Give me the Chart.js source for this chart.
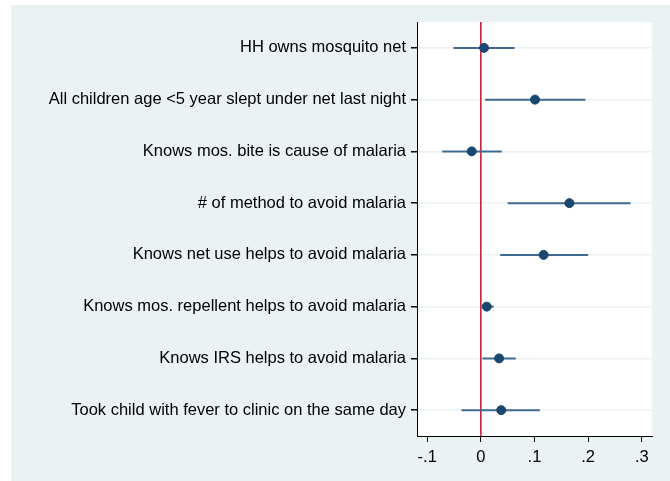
<!DOCTYPE html>
<html>
<head>
<meta charset="utf-8">
<script src="https://cdn.jsdelivr.net/npm/chart.js@4/dist/chart.umd.min.js"></script>
<style>
  html, body { margin: 0; padding: 0; background: #fff; }
  #wrap { position: absolute; left: 11px; top: 5px; width: 659px; height: 476px; background: #eaf2f3; }
</style>
</head>
<body>
<div id="wrap"><canvas id="coefChart" width="659" height="476"></canvas></div>
<script>
// data
var labels = [
  'HH owns mosquito net',
  'All children age <5 year slept under net last night',
  'Knows mos. bite is cause of malaria',
  '# of method to avoid malaria',
  'Knows net use helps to avoid malaria',
  'Knows mos. repellent helps to avoid malaria',
  'Knows IRS helps to avoid malaria',
  'Took child with fever to clinic on the same day'
];
var estimates = [0.006, 0.101, -0.017, 0.165, 0.117, 0.011, 0.034, 0.038];
var ciLow     = [-0.051, 0.008, -0.072, 0.050, 0.036, 0.004, 0.003, -0.036];
var ciHigh    = [0.063, 0.195, 0.039, 0.279, 0.200, 0.024, 0.065, 0.110];
var xTicks = [-0.1, 0, 0.1, 0.2, 0.3];

var navy = '#1a476f';
var ciColor = '#3f6a92';

// confidence interval segments, one per row
var ciSets = labels.map(function (l, i) {
  return {
    type: 'line',
    data: [{ x: ciLow[i], y: i + 1 }, { x: ciHigh[i], y: i + 1 }],
    borderColor: ciColor,
    borderWidth: 2,
    pointRadius: 0,
    order: 2
  };
});

var chartBg = {
  id: 'chartBg',
  beforeDraw: function (chart) {
    var a = chart.chartArea, c = chart.ctx;
    c.save();
    c.fillStyle = '#ffffff';
    c.fillRect(a.left, a.top, a.right - a.left, a.bottom - a.top);
    c.restore();
  }
};

var ctx = document.getElementById('coefChart').getContext('2d');
var coefChart = new Chart(ctx, {
  type: 'scatter',
  data: {
    datasets: [{
      type: 'line',
      data: [{ x: 0, y: 0.5 }, { x: 0, y: 8.5 }],
      borderColor: '#c8102e',
      borderWidth: 1.5,
      pointRadius: 0,
      order: 3
    }].concat(ciSets).concat([{
      type: 'scatter',
      data: estimates.map(function (v, i) { return { x: v, y: i + 1 }; }),
      backgroundColor: navy,
      borderColor: navy,
      pointRadius: 4.5,
      order: 1
    }])
  },
  options: {
    responsive: false,
    animation: false,
    layout: { padding: { left: 0, right: 18, top: 17, bottom: 0 } },
    plugins: { legend: { display: false }, tooltip: { enabled: false } },
    scales: {
      x: {
        type: 'linear',
        min: -0.119,
        max: 0.319,
        afterBuildTicks: function (s) { s.ticks = xTicks.map(function (v) { return { value: v }; }); },
        afterFit: function (s) { s.height = 45; },
        ticks: {
          color: '#000',
          font: { family: 'Liberation Sans', size: 16.5 },
          padding: 6,
          callback: function (v) {
            if (Math.abs(v) < 1e-9) return '0';
            var s = (Math.round(v * 10) / 10).toString();
            return s.replace('0.', '.');
          }
        },
        grid: { drawOnChartArea: false, color: '#000', tickColor: '#000', tickLength: 6 },
        border: { color: '#000', width: 1 }
      },
      y: {
        type: 'linear',
        reverse: true,
        min: 0.5,
        max: 8.5,
        afterBuildTicks: function (s) { s.ticks = labels.map(function (l, i) { return { value: i + 1 }; }); },
        afterFit: function (s) { s.width = 406; },
        ticks: {
          color: '#000',
          font: { family: 'Liberation Sans', size: 16.5 },
          padding: 5,
          callback: function (v) { return labels[v - 1]; }
        },
        grid: { color: '#eaf2f3', lineWidth: 1.5, tickColor: '#000', tickLength: 6 },
        border: { color: '#000', width: 1 }
      }
    }
  },
  plugins: [chartBg]
});
</script>
</body>
</html>
